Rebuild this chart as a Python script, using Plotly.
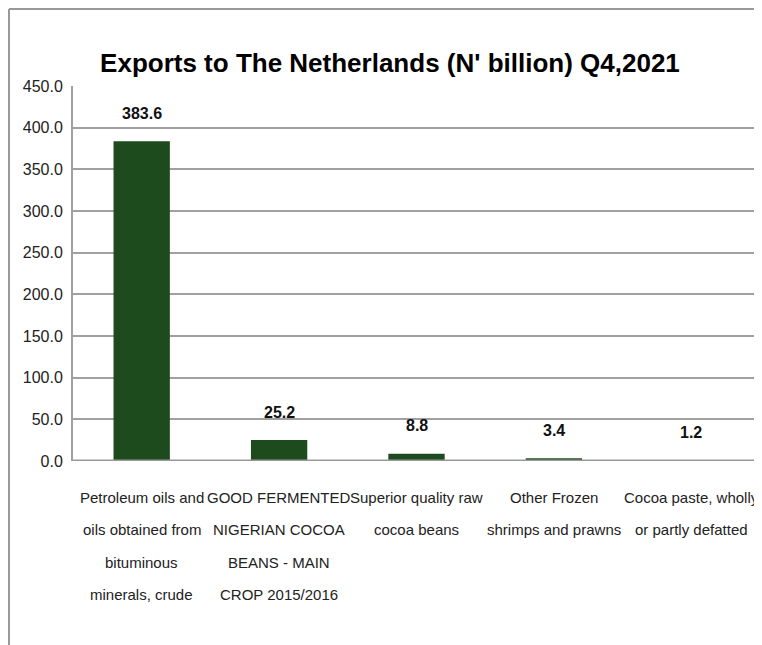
import plotly.graph_objects as go

categories = [
    "Petroleum oils and<br>oils obtained from<br>bituminous<br>minerals, crude",
    "GOOD FERMENTED<br>NIGERIAN COCOA<br>BEANS - MAIN<br>CROP 2015/2016",
    "Superior quality raw<br>cocoa beans",
    "Other Frozen<br>shrimps and prawns",
    "Cocoa paste, wholly<br>or partly defatted",
]
values = [383.6, 25.2, 8.8, 3.4, 1.2]
labels = ["383.6", "25.2", "8.8", "3.4", "1.2"]
tick_vals = [0, 50, 100, 150, 200, 250, 300, 350, 400, 450]
tick_text = ["0.0", "50.0", "100.0", "150.0", "200.0", "250.0", "300.0", "350.0", "400.0", "450.0"]

FONT = "Liberation Sans, Arial, sans-serif"
xs = list(range(len(categories)))

W, H = 754, 637
ML, MR, MT, MB = 65, 2, 78, 184
PW, PH = W - ML - MR, H - MT - MB

fig = go.Figure()
fig.add_trace(go.Bar(
    x=xs, y=values, width=0.41,
    marker=dict(color="#1e4b1e", line=dict(width=0)),
    hoverinfo="skip",
))

# data labels
for i, (v, t) in enumerate(zip(values, labels)):
    fig.add_annotation(x=i, y=v, xref="x", yref="y", yanchor="middle",
                       yshift=28, text="<b>%s</b>" % t, showarrow=False,
                       font=dict(family=FONT, size=16, color="#111"))

# category labels (multi-line with wide line spacing)
for i, cat in enumerate(categories):
    for j, line in enumerate(cat.split("<br>")):
        fig.add_annotation(x=i, y=0, xref="x", yref="paper", yanchor="middle",
                           yshift=-36 - 32.5 * j, text=line, showarrow=False,
                           font=dict(family=FONT, size=15, color="#222"))

bx = -(ML - 1) / PW
by = (PH + MT - 1) / PH

fig.update_layout(
    width=W, height=H,
    margin=dict(l=ML, r=MR, t=MT, b=MB),
    paper_bgcolor="white", plot_bgcolor="white",
    showlegend=False,
    title=dict(text="<b>Exports to The Netherlands (N' billion) Q4,2021</b>",
               x=0.5066, xanchor="center", y=0.9137, yanchor="middle",
               font=dict(family=FONT, size=26, color="black")),
    xaxis=dict(range=[-0.5, 4.5], tickvals=xs, showticklabels=False,
               showgrid=False, zeroline=False, showline=False, ticks="",
               automargin=False),
    yaxis=dict(range=[0, 450], tickvals=tick_vals, ticktext=tick_text,
               showgrid=True, gridcolor="#a0a0a0", gridwidth=2,
               zeroline=False, showline=True, linecolor="#a0a0a0", linewidth=2,
               ticks="", ticklen=0, automargin=False, ticklabelstandoff=5,
               tickfont=dict(family=FONT, size=16, color="#222")),
    shapes=[
        dict(type="line", xref="paper", yref="y", x0=0, x1=1, y0=0, y1=0,
             line=dict(color="#999", width=3)),
        dict(type="line", xref="paper", yref="paper", x0=bx, x1=1.01, y0=by, y1=by,
             line=dict(color="#999", width=2)),
        dict(type="line", xref="paper", yref="paper", x0=bx, x1=bx, y0=by, y1=-0.6,
             line=dict(color="#999", width=2)),
    ],
)

fig.write_html("out.html")
